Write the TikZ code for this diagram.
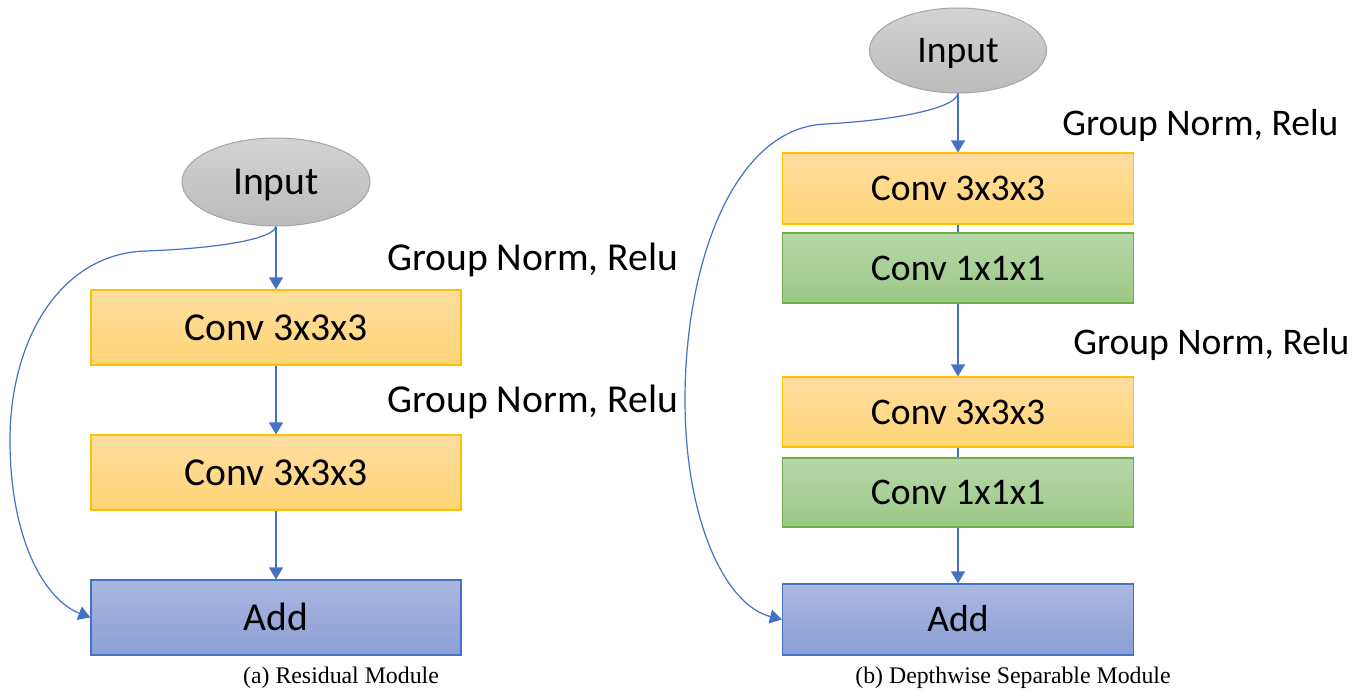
\documentclass[tikz,border=0pt]{standalone}
\usepackage{fontspec}
\setmainfont{Carlito}
\newfontfamily\capfont{Liberation Serif}
\usetikzlibrary{arrows.meta,shapes.geometric}
\definecolor{arr}{HTML}{4472C4}
\definecolor{yb}{HTML}{FFC000}
\definecolor{yt}{HTML}{FFDDA0}
\definecolor{ybot}{HTML}{FFD576}
\definecolor{gb}{HTML}{70AD47}
\definecolor{gt}{HTML}{B6D7A9}
\definecolor{gbot}{HTML}{9CC986}
\definecolor{bb}{HTML}{4472C4}
\definecolor{bt}{HTML}{ABB8E1}
\definecolor{bbot}{HTML}{8A9FD4}
\definecolor{et}{HTML}{D3D3D3}
\definecolor{ebot}{HTML}{BBBBBB}
\definecolor{eb}{HTML}{A5A5A5}
\tikzset{
  txt/.style={font=\fontsize{19.8}{23}\selectfont, text height=12.75pt, text depth=0pt, inner sep=0pt},
  txtb/.style={font=\fontsize{18.8}{22}\selectfont, text height=12.1pt, text depth=0pt, inner sep=0pt},
  boxbase/.style={rectangle, line width=0.6pt},
  convy/.style={boxbase, draw=yb, top color=yt, bottom color=ybot},
  convg/.style={boxbase, draw=gb, top color=gt, bottom color=gbot},
  addb/.style={boxbase, draw=bb, top color=bt, bottom color=bbot},
  inp/.style={ellipse, draw=eb, line width=0.5pt, top color=et, bottom color=ebot},
  pa/.style={txt, minimum width=185pt, minimum height=37.5pt},
  pb/.style={txtb, minimum width=175.5pt},
  lbl/.style={anchor=west},
  captxt/.style={font=\capfont\fontsize{11.9}{14}\selectfont, inner sep=0pt},
  arrow/.style={draw=arr, line width=0.6pt, -{Triangle[length=6pt,width=7pt]}},
  plain/.style={draw=arr, line width=0.6pt},
}
\begin{document}
\begin{tikzpicture}[x=0.5pt,y=-0.5pt]
\useasboundingbox[fill=white] (0,0) rectangle (1353,690);
% ---- (a) Residual Module
\node[inp, txt, minimum width=94pt, minimum height=44pt] (inA) at (276,182) {Input};
\node[convy, pa] (c1A) at (276,327.5) {Conv 3x3x3};
\node[convy, pa] (c2A) at (276,472.5) {Conv 3x3x3};
\node[addb, pa] (addA) at (276,617.5) {Add};
\node[txt, lbl] (g1A) at (387,258) {Group Norm, Relu};
\node[txt, lbl] (g2A) at (387,400) {Group Norm, Relu};
\node[captxt] (capA) at (341,678) {(a) Residual Module};
\draw[arrow] (inA.south) -- (c1A.north);
\draw[arrow] (c1A.south) -- (c2A.north);
\draw[arrow] (c2A.south) -- (addA.north);
\draw[arrow] (inA.south) .. controls (272,241) and (205,249) .. (145,251)
  .. controls (60,254) and (10,340) .. (10,440)
  .. controls (10,540) and (45,600) .. (addA.west);
% ---- (b) Depthwise Separable Module
\node[inp, txtb, minimum width=88.5pt, minimum height=42.5pt] (inB) at (958,50.5) {Input};
\node[convy, pb, minimum height=35.5pt] (c1B) at (958,188.5) {Conv 3x3x3};
\node[convg, pb, minimum height=35pt] (d1B) at (958,268) {Conv 1x1x1};
\node[convy, pb, minimum height=35pt] (c2B) at (958,412) {Conv 3x3x3};
\node[convg, pb, minimum height=34.5pt] (d2B) at (958,492.5) {Conv 1x1x1};
\node[addb, pb, minimum height=35.5pt] (addB) at (958,619.5) {Add};
\node[txtb, lbl] (g1B) at (1062,123) {Group Norm, Relu};
\node[txtb, lbl] (g2B) at (1073,342) {Group Norm, Relu};
\node[captxt] (capB) at (1013,678) {(b) Depthwise Separable Module};
\draw[arrow] (inB.south) -- (c1B.north);
\draw[plain] (c1B.south) -- (d1B.north);
\draw[arrow] (d1B.south) -- (c2B.north);
\draw[plain] (c2B.south) -- (d2B.north);
\draw[arrow] (d2B.south) -- (addB.north);
\draw[arrow] (inB.south) .. controls (955,110) and (885,121) .. (825,124)
  .. controls (735,128) and (685,260) .. (685,400)
  .. controls (685,520) and (725,605) .. (addB.west);
\end{tikzpicture}
\end{document}
